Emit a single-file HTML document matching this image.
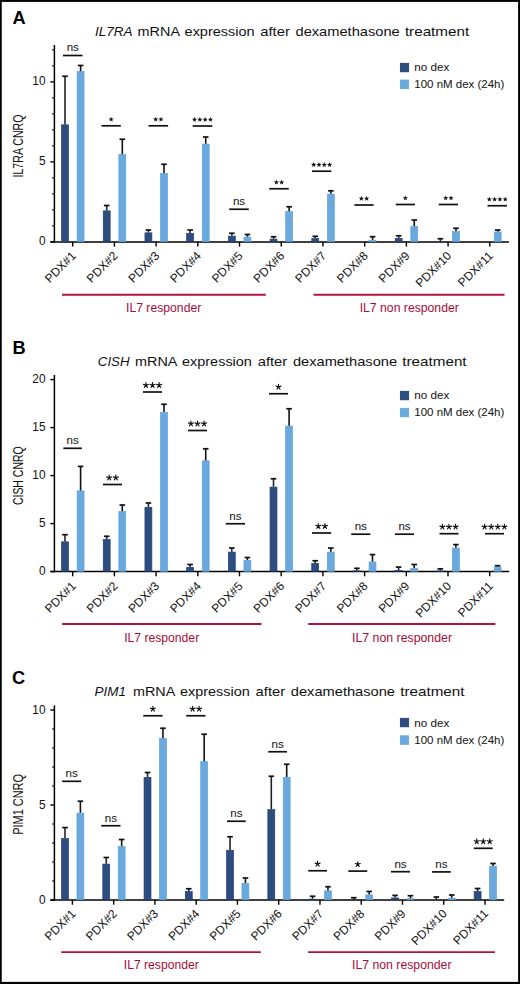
<!DOCTYPE html>
<html><head><meta charset="utf-8"><title>mRNA expression after dexamethasone treatment</title>
<style>
html,body{margin:0;padding:0;background:#fff;}
body{width:520px;height:984px;overflow:hidden;position:relative;}
svg{position:absolute;left:0;top:0;display:block;font-family:"Liberation Sans", sans-serif;}
</style></head><body>
<svg width="520" height="984" viewBox="0 0 520 984">
<rect x="0" y="0" width="520" height="984" fill="#fff"/>
<g>
<text x="12.50" y="23.60" font-size="18.2" font-weight="bold" fill="#000">A</text>
<text x="94.90" y="35.80" font-size="13.4" fill="#111" textLength="37.50" lengthAdjust="spacingAndGlyphs" font-style="italic">IL7RA</text>
<text x="137.60" y="35.80" font-size="13.4" fill="#111" textLength="42.40" lengthAdjust="spacingAndGlyphs">mRNA</text>
<text x="184.60" y="35.80" font-size="13.4" fill="#111" textLength="69.90" lengthAdjust="spacingAndGlyphs">expression</text>
<text x="260.30" y="35.80" font-size="13.4" fill="#111" textLength="29.50" lengthAdjust="spacingAndGlyphs">after</text>
<text x="295.50" y="35.80" font-size="13.4" fill="#111" textLength="104.20" lengthAdjust="spacingAndGlyphs">dexamethasone</text>
<text x="404.90" y="35.80" font-size="13.4" fill="#111" textLength="64.30" lengthAdjust="spacingAndGlyphs">treatment</text>
<rect x="400.35" y="63.30" width="8.3" height="8.5" fill="#2d4c7f" stroke="#1d3a70" stroke-width="0.8"/>
<rect x="400.35" y="80.05" width="8.3" height="8.5" fill="#6aa9de" stroke="#62a4dc" stroke-width="0.8"/>
<text x="414.3" y="71.25" font-size="11.3" fill="#111" textLength="35" lengthAdjust="spacingAndGlyphs">no dex</text>
<text x="414.3" y="88.00" font-size="11.3" fill="#111" textLength="90" lengthAdjust="spacingAndGlyphs">100 nM dex (24h)</text>
<line x1="54.40" y1="45.00" x2="54.40" y2="242.65" stroke="#000" stroke-width="1.5"/>
<line x1="50.4" y1="241.90" x2="508.90" y2="241.90" stroke="#000" stroke-width="1.5"/>
<line x1="52.2" y1="225.90" x2="54.40" y2="225.90" stroke="#000" stroke-width="1.2"/>
<line x1="52.2" y1="209.90" x2="54.40" y2="209.90" stroke="#000" stroke-width="1.2"/>
<line x1="52.2" y1="193.90" x2="54.40" y2="193.90" stroke="#000" stroke-width="1.2"/>
<line x1="52.2" y1="177.90" x2="54.40" y2="177.90" stroke="#000" stroke-width="1.2"/>
<line x1="52.2" y1="145.90" x2="54.40" y2="145.90" stroke="#000" stroke-width="1.2"/>
<line x1="52.2" y1="129.90" x2="54.40" y2="129.90" stroke="#000" stroke-width="1.2"/>
<line x1="52.2" y1="113.90" x2="54.40" y2="113.90" stroke="#000" stroke-width="1.2"/>
<line x1="52.2" y1="97.90" x2="54.40" y2="97.90" stroke="#000" stroke-width="1.2"/>
<line x1="52.2" y1="65.90" x2="54.40" y2="65.90" stroke="#000" stroke-width="1.2"/>
<line x1="52.2" y1="49.90" x2="54.40" y2="49.90" stroke="#000" stroke-width="1.2"/>
<line x1="50.4" y1="241.90" x2="54.40" y2="241.90" stroke="#000" stroke-width="1.4"/>
<text transform="translate(45.5,245.40) scale(0.9,1)" font-size="13.2" fill="#111" text-anchor="end">0</text>
<line x1="50.4" y1="161.90" x2="54.40" y2="161.90" stroke="#000" stroke-width="1.4"/>
<text transform="translate(45.5,165.40) scale(0.9,1)" font-size="13.2" fill="#111" text-anchor="end">5</text>
<line x1="50.4" y1="81.90" x2="54.40" y2="81.90" stroke="#000" stroke-width="1.4"/>
<text transform="translate(45.5,85.40) scale(0.9,1)" font-size="13.2" fill="#111" text-anchor="end">10</text>
<text transform="translate(23.3,146.00) rotate(-90)" x="0" y="0" font-size="14.6" fill="#111" text-anchor="middle" textLength="63.00" lengthAdjust="spacingAndGlyphs">IL7RA CNRQ</text>
<line x1="72.70" y1="241.90" x2="72.70" y2="246.60" stroke="#000" stroke-width="1.4"/>
<rect x="61.55" y="124.85" width="6.90" height="116.70" fill="#2d4c7f" stroke="#213e74" stroke-width="0.7"/>
<line x1="65.00" y1="124.50" x2="65.00" y2="76.25" stroke="#222" stroke-width="1.6"/>
<line x1="62.20" y1="76.25" x2="67.80" y2="76.25" stroke="#111" stroke-width="1.7"/>
<rect x="77.15" y="71.60" width="6.90" height="169.95" fill="#6aa9de" stroke="#5fa2da" stroke-width="0.7"/>
<line x1="80.60" y1="71.25" x2="80.60" y2="65.50" stroke="#111" stroke-width="1.6"/>
<line x1="77.80" y1="65.50" x2="83.40" y2="65.50" stroke="#111" stroke-width="1.7"/>
<text transform="translate(76.70,256.50) rotate(-45)" font-size="12" fill="#111" text-anchor="end">PDX#1</text>
<line x1="114.41" y1="241.90" x2="114.41" y2="246.60" stroke="#000" stroke-width="1.4"/>
<rect x="103.26" y="210.85" width="6.90" height="30.70" fill="#2d4c7f" stroke="#213e74" stroke-width="0.7"/>
<line x1="106.71" y1="210.50" x2="106.71" y2="205.50" stroke="#222" stroke-width="1.6"/>
<line x1="103.91" y1="205.50" x2="109.51" y2="205.50" stroke="#111" stroke-width="1.7"/>
<rect x="118.86" y="154.60" width="6.90" height="86.95" fill="#6aa9de" stroke="#5fa2da" stroke-width="0.7"/>
<line x1="122.31" y1="154.25" x2="122.31" y2="139.25" stroke="#111" stroke-width="1.6"/>
<line x1="119.51" y1="139.25" x2="125.11" y2="139.25" stroke="#111" stroke-width="1.7"/>
<text transform="translate(118.41,256.50) rotate(-45)" font-size="12" fill="#111" text-anchor="end">PDX#2</text>
<line x1="156.12" y1="241.90" x2="156.12" y2="246.60" stroke="#000" stroke-width="1.4"/>
<rect x="144.97" y="232.85" width="6.90" height="8.70" fill="#2d4c7f" stroke="#213e74" stroke-width="0.7"/>
<line x1="148.42" y1="232.50" x2="148.42" y2="230.00" stroke="#222" stroke-width="1.6"/>
<line x1="145.62" y1="230.00" x2="151.22" y2="230.00" stroke="#111" stroke-width="1.7"/>
<rect x="160.57" y="173.60" width="6.90" height="67.95" fill="#6aa9de" stroke="#5fa2da" stroke-width="0.7"/>
<line x1="164.02" y1="173.25" x2="164.02" y2="164.25" stroke="#111" stroke-width="1.6"/>
<line x1="161.22" y1="164.25" x2="166.82" y2="164.25" stroke="#111" stroke-width="1.7"/>
<text transform="translate(160.12,256.50) rotate(-45)" font-size="12" fill="#111" text-anchor="end">PDX#3</text>
<line x1="197.83" y1="241.90" x2="197.83" y2="246.60" stroke="#000" stroke-width="1.4"/>
<rect x="186.68" y="233.35" width="6.90" height="8.20" fill="#2d4c7f" stroke="#213e74" stroke-width="0.7"/>
<line x1="190.13" y1="233.00" x2="190.13" y2="230.00" stroke="#222" stroke-width="1.6"/>
<line x1="187.33" y1="230.00" x2="192.93" y2="230.00" stroke="#111" stroke-width="1.7"/>
<rect x="202.28" y="144.10" width="6.90" height="97.45" fill="#6aa9de" stroke="#5fa2da" stroke-width="0.7"/>
<line x1="205.73" y1="143.75" x2="205.73" y2="137.00" stroke="#111" stroke-width="1.6"/>
<line x1="202.93" y1="137.00" x2="208.53" y2="137.00" stroke="#111" stroke-width="1.7"/>
<text transform="translate(201.83,256.50) rotate(-45)" font-size="12" fill="#111" text-anchor="end">PDX#4</text>
<line x1="239.54" y1="241.90" x2="239.54" y2="246.60" stroke="#000" stroke-width="1.4"/>
<rect x="228.39" y="236.10" width="6.90" height="5.45" fill="#2d4c7f" stroke="#213e74" stroke-width="0.7"/>
<line x1="231.84" y1="235.75" x2="231.84" y2="233.25" stroke="#222" stroke-width="1.6"/>
<line x1="229.04" y1="233.25" x2="234.64" y2="233.25" stroke="#111" stroke-width="1.7"/>
<rect x="243.99" y="237.10" width="6.90" height="4.45" fill="#6aa9de" stroke="#5fa2da" stroke-width="0.7"/>
<line x1="247.44" y1="236.75" x2="247.44" y2="234.50" stroke="#111" stroke-width="1.6"/>
<line x1="244.64" y1="234.50" x2="250.24" y2="234.50" stroke="#111" stroke-width="1.7"/>
<text transform="translate(243.54,256.50) rotate(-45)" font-size="12" fill="#111" text-anchor="end">PDX#5</text>
<line x1="281.25" y1="241.90" x2="281.25" y2="246.60" stroke="#000" stroke-width="1.4"/>
<rect x="270.10" y="239.10" width="6.90" height="2.45" fill="#2d4c7f" stroke="#213e74" stroke-width="0.7"/>
<line x1="273.55" y1="238.75" x2="273.55" y2="236.75" stroke="#222" stroke-width="1.6"/>
<line x1="270.75" y1="236.75" x2="276.35" y2="236.75" stroke="#111" stroke-width="1.7"/>
<rect x="285.70" y="211.60" width="6.90" height="29.95" fill="#6aa9de" stroke="#5fa2da" stroke-width="0.7"/>
<line x1="289.15" y1="211.25" x2="289.15" y2="206.75" stroke="#111" stroke-width="1.6"/>
<line x1="286.35" y1="206.75" x2="291.95" y2="206.75" stroke="#111" stroke-width="1.7"/>
<text transform="translate(285.25,256.50) rotate(-45)" font-size="12" fill="#111" text-anchor="end">PDX#6</text>
<line x1="322.96" y1="241.90" x2="322.96" y2="246.60" stroke="#000" stroke-width="1.4"/>
<rect x="311.81" y="238.55" width="6.90" height="3.00" fill="#2d4c7f" stroke="#213e74" stroke-width="0.7"/>
<line x1="315.26" y1="238.20" x2="315.26" y2="236.30" stroke="#222" stroke-width="1.6"/>
<line x1="312.46" y1="236.30" x2="318.06" y2="236.30" stroke="#111" stroke-width="1.7"/>
<rect x="327.41" y="194.15" width="6.90" height="47.40" fill="#6aa9de" stroke="#5fa2da" stroke-width="0.7"/>
<line x1="330.86" y1="193.80" x2="330.86" y2="190.80" stroke="#111" stroke-width="1.6"/>
<line x1="328.06" y1="190.80" x2="333.66" y2="190.80" stroke="#111" stroke-width="1.7"/>
<text transform="translate(326.96,256.50) rotate(-45)" font-size="12" fill="#111" text-anchor="end">PDX#7</text>
<line x1="364.67" y1="241.90" x2="364.67" y2="246.60" stroke="#000" stroke-width="1.4"/>
<rect x="369.12" y="240.25" width="6.90" height="1.30" fill="#6aa9de" stroke="#5fa2da" stroke-width="0.7"/>
<line x1="372.57" y1="239.90" x2="372.57" y2="236.70" stroke="#111" stroke-width="1.6"/>
<line x1="369.77" y1="236.70" x2="375.37" y2="236.70" stroke="#111" stroke-width="1.7"/>
<text transform="translate(368.67,256.50) rotate(-45)" font-size="12" fill="#111" text-anchor="end">PDX#8</text>
<line x1="406.38" y1="241.90" x2="406.38" y2="246.60" stroke="#000" stroke-width="1.4"/>
<rect x="395.23" y="238.35" width="6.90" height="3.20" fill="#2d4c7f" stroke="#213e74" stroke-width="0.7"/>
<line x1="398.68" y1="238.00" x2="398.68" y2="235.75" stroke="#222" stroke-width="1.6"/>
<line x1="395.88" y1="235.75" x2="401.48" y2="235.75" stroke="#111" stroke-width="1.7"/>
<rect x="410.83" y="226.60" width="6.90" height="14.95" fill="#6aa9de" stroke="#5fa2da" stroke-width="0.7"/>
<line x1="414.28" y1="226.25" x2="414.28" y2="220.00" stroke="#111" stroke-width="1.6"/>
<line x1="411.48" y1="220.00" x2="417.08" y2="220.00" stroke="#111" stroke-width="1.7"/>
<text transform="translate(410.38,256.50) rotate(-45)" font-size="12" fill="#111" text-anchor="end">PDX#9</text>
<line x1="448.09" y1="241.90" x2="448.09" y2="246.60" stroke="#000" stroke-width="1.4"/>
<rect x="436.94" y="241.35" width="6.90" height="0.20" fill="#2d4c7f" stroke="#213e74" stroke-width="0.7"/>
<line x1="440.39" y1="241.00" x2="440.39" y2="238.75" stroke="#222" stroke-width="1.6"/>
<line x1="437.59" y1="238.75" x2="443.19" y2="238.75" stroke="#111" stroke-width="1.7"/>
<rect x="452.54" y="231.60" width="6.90" height="9.95" fill="#6aa9de" stroke="#5fa2da" stroke-width="0.7"/>
<line x1="455.99" y1="231.25" x2="455.99" y2="228.25" stroke="#111" stroke-width="1.6"/>
<line x1="453.19" y1="228.25" x2="458.79" y2="228.25" stroke="#111" stroke-width="1.7"/>
<text transform="translate(452.09,256.50) rotate(-45)" font-size="12" fill="#111" text-anchor="end">PDX#10</text>
<line x1="489.80" y1="241.90" x2="489.80" y2="246.60" stroke="#000" stroke-width="1.4"/>
<rect x="494.25" y="231.95" width="6.90" height="9.60" fill="#6aa9de" stroke="#5fa2da" stroke-width="0.7"/>
<line x1="497.70" y1="231.60" x2="497.70" y2="230.00" stroke="#111" stroke-width="1.6"/>
<line x1="494.90" y1="230.00" x2="500.50" y2="230.00" stroke="#111" stroke-width="1.7"/>
<text transform="translate(493.80,256.50) rotate(-45)" font-size="12" fill="#111" text-anchor="end">PDX#11</text>
<line x1="63.00" y1="55.50" x2="82.50" y2="55.50" stroke="#111" stroke-width="1.7"/>
<text x="72.75" y="51.40" font-size="11.6" fill="#111" text-anchor="middle">ns</text>
<line x1="101.50" y1="125.80" x2="120.80" y2="125.80" stroke="#111" stroke-width="1.7"/>
<g fill="#111"><polygon points="111.15,116.65 111.83,118.47 113.77,118.55 112.24,119.76 112.77,121.62 111.15,120.55 109.53,121.62 110.06,119.76 108.53,118.55 110.47,118.47"/></g>
<line x1="148.50" y1="125.80" x2="168.10" y2="125.80" stroke="#111" stroke-width="1.7"/>
<g fill="#111"><polygon points="155.65,116.65 156.33,118.47 158.27,118.55 156.74,119.76 157.27,121.62 155.65,120.55 154.03,121.62 154.56,119.76 153.03,118.55 154.97,118.47"/><polygon points="160.95,116.65 161.63,118.47 163.57,118.55 162.04,119.76 162.57,121.62 160.95,120.55 159.33,121.62 159.86,119.76 158.33,118.55 160.27,118.47"/></g>
<line x1="192.70" y1="126.00" x2="212.30" y2="126.00" stroke="#111" stroke-width="1.7"/>
<g fill="#111"><polygon points="194.55,116.85 195.23,118.67 197.17,118.75 195.64,119.96 196.17,121.82 194.55,120.75 192.93,121.82 193.46,119.96 191.93,118.75 193.87,118.67"/><polygon points="199.85,116.85 200.53,118.67 202.47,118.75 200.94,119.96 201.47,121.82 199.85,120.75 198.23,121.82 198.76,119.96 197.23,118.75 199.17,118.67"/><polygon points="205.15,116.85 205.83,118.67 207.77,118.75 206.24,119.96 206.77,121.82 205.15,120.75 203.53,121.82 204.06,119.96 202.53,118.75 204.47,118.67"/><polygon points="210.45,116.85 211.13,118.67 213.07,118.75 211.54,119.96 212.07,121.82 210.45,120.75 208.83,121.82 209.36,119.96 207.83,118.75 209.77,118.67"/></g>
<line x1="229.25" y1="209.25" x2="248.75" y2="209.25" stroke="#111" stroke-width="1.7"/>
<text x="239.00" y="205.15" font-size="11.6" fill="#111" text-anchor="middle">ns</text>
<line x1="269.25" y1="188.75" x2="288.75" y2="188.75" stroke="#111" stroke-width="1.7"/>
<g fill="#111"><polygon points="276.35,179.60 277.03,181.42 278.97,181.50 277.44,182.71 277.97,184.57 276.35,183.50 274.73,184.57 275.26,182.71 273.73,181.50 275.67,181.42"/><polygon points="281.65,179.60 282.33,181.42 284.27,181.50 282.74,182.71 283.27,184.57 281.65,183.50 280.03,184.57 280.56,182.71 279.03,181.50 280.97,181.42"/></g>
<line x1="312.00" y1="171.20" x2="331.30" y2="171.20" stroke="#111" stroke-width="1.7"/>
<g fill="#111"><polygon points="313.70,162.05 314.38,163.87 316.32,163.95 314.79,165.16 315.32,167.02 313.70,165.95 312.08,167.02 312.61,165.16 311.08,163.95 313.02,163.87"/><polygon points="319.00,162.05 319.68,163.87 321.62,163.95 320.09,165.16 320.62,167.02 319.00,165.95 317.38,167.02 317.91,165.16 316.38,163.95 318.32,163.87"/><polygon points="324.30,162.05 324.98,163.87 326.92,163.95 325.39,165.16 325.92,167.02 324.30,165.95 322.68,167.02 323.21,165.16 321.68,163.95 323.62,163.87"/><polygon points="329.60,162.05 330.28,163.87 332.22,163.95 330.69,165.16 331.22,167.02 329.60,165.95 327.98,167.02 328.51,165.16 326.98,163.95 328.92,163.87"/></g>
<line x1="354.40" y1="205.00" x2="373.60" y2="205.00" stroke="#111" stroke-width="1.7"/>
<g fill="#111"><polygon points="361.35,195.85 362.03,197.67 363.97,197.75 362.44,198.96 362.97,200.82 361.35,199.75 359.73,200.82 360.26,198.96 358.73,197.75 360.67,197.67"/><polygon points="366.65,195.85 367.33,197.67 369.27,197.75 367.74,198.96 368.27,200.82 366.65,199.75 365.03,200.82 365.56,198.96 364.03,197.75 365.97,197.67"/></g>
<line x1="395.75" y1="204.50" x2="415.00" y2="204.50" stroke="#111" stroke-width="1.7"/>
<g fill="#111"><polygon points="405.38,195.35 406.05,197.17 407.99,197.25 406.47,198.46 406.99,200.32 405.38,199.25 403.76,200.32 404.28,198.46 402.76,197.25 404.70,197.17"/></g>
<line x1="438.75" y1="204.50" x2="458.00" y2="204.50" stroke="#111" stroke-width="1.7"/>
<g fill="#111"><polygon points="445.73,195.35 446.40,197.17 448.34,197.25 446.82,198.46 447.34,200.32 445.73,199.25 444.11,200.32 444.63,198.46 443.11,197.25 445.05,197.17"/><polygon points="451.03,195.35 451.70,197.17 453.64,197.25 452.12,198.46 452.64,200.32 451.03,199.25 449.41,200.32 449.93,198.46 448.41,197.25 450.35,197.17"/></g>
<line x1="487.50" y1="205.75" x2="507.00" y2="205.75" stroke="#111" stroke-width="1.7"/>
<g fill="#111"><polygon points="489.30,196.60 489.98,198.42 491.92,198.50 490.39,199.71 490.92,201.57 489.30,200.50 487.68,201.57 488.21,199.71 486.68,198.50 488.62,198.42"/><polygon points="494.60,196.60 495.28,198.42 497.22,198.50 495.69,199.71 496.22,201.57 494.60,200.50 492.98,201.57 493.51,199.71 491.98,198.50 493.92,198.42"/><polygon points="499.90,196.60 500.58,198.42 502.52,198.50 500.99,199.71 501.52,201.57 499.90,200.50 498.28,201.57 498.81,199.71 497.28,198.50 499.22,198.42"/><polygon points="505.20,196.60 505.88,198.42 507.82,198.50 506.29,199.71 506.82,201.57 505.20,200.50 503.58,201.57 504.11,199.71 502.58,198.50 504.52,198.42"/></g>
<line x1="62.00" y1="294.80" x2="265.80" y2="294.80" stroke="#b0143e" stroke-width="1.9"/>
<line x1="313.50" y1="294.80" x2="504.60" y2="294.80" stroke="#b0143e" stroke-width="1.9"/>
<text x="126.00" y="312.00" font-size="12" fill="#a30d38" textLength="75.30" lengthAdjust="spacingAndGlyphs">IL7 responder</text>
<text x="359.70" y="312.00" font-size="12" fill="#a30d38" textLength="99.10" lengthAdjust="spacingAndGlyphs">IL7 non responder</text>
</g>
<g>
<text x="12.50" y="353.80" font-size="18.2" font-weight="bold" fill="#000">B</text>
<text x="97.80" y="365.60" font-size="13.4" fill="#111" textLength="31.70" lengthAdjust="spacingAndGlyphs" font-style="italic">CISH</text>
<text x="135.00" y="365.60" font-size="13.4" fill="#111" textLength="42.40" lengthAdjust="spacingAndGlyphs">mRNA</text>
<text x="182.00" y="365.60" font-size="13.4" fill="#111" textLength="69.90" lengthAdjust="spacingAndGlyphs">expression</text>
<text x="257.70" y="365.60" font-size="13.4" fill="#111" textLength="29.50" lengthAdjust="spacingAndGlyphs">after</text>
<text x="292.90" y="365.60" font-size="13.4" fill="#111" textLength="104.20" lengthAdjust="spacingAndGlyphs">dexamethasone</text>
<text x="402.30" y="365.60" font-size="13.4" fill="#111" textLength="64.30" lengthAdjust="spacingAndGlyphs">treatment</text>
<rect x="400.35" y="391.30" width="8.3" height="8.5" fill="#2d4c7f" stroke="#1d3a70" stroke-width="0.8"/>
<rect x="400.35" y="408.30" width="8.3" height="8.5" fill="#6aa9de" stroke="#62a4dc" stroke-width="0.8"/>
<text x="414.3" y="399.25" font-size="11.3" fill="#111" textLength="35" lengthAdjust="spacingAndGlyphs">no dex</text>
<text x="414.3" y="416.25" font-size="11.3" fill="#111" textLength="90" lengthAdjust="spacingAndGlyphs">100 nM dex (24h)</text>
<line x1="54.40" y1="375.00" x2="54.40" y2="572.35" stroke="#000" stroke-width="1.5"/>
<line x1="50.4" y1="571.60" x2="509.20" y2="571.60" stroke="#000" stroke-width="1.5"/>
<line x1="50.4" y1="571.60" x2="54.40" y2="571.60" stroke="#000" stroke-width="1.4"/>
<text transform="translate(45.5,575.10) scale(0.9,1)" font-size="13.2" fill="#111" text-anchor="end">0</text>
<line x1="50.4" y1="523.60" x2="54.40" y2="523.60" stroke="#000" stroke-width="1.4"/>
<text transform="translate(45.5,527.10) scale(0.9,1)" font-size="13.2" fill="#111" text-anchor="end">5</text>
<line x1="50.4" y1="475.60" x2="54.40" y2="475.60" stroke="#000" stroke-width="1.4"/>
<text transform="translate(45.5,479.10) scale(0.9,1)" font-size="13.2" fill="#111" text-anchor="end">10</text>
<line x1="50.4" y1="427.60" x2="54.40" y2="427.60" stroke="#000" stroke-width="1.4"/>
<text transform="translate(45.5,431.10) scale(0.9,1)" font-size="13.2" fill="#111" text-anchor="end">15</text>
<line x1="50.4" y1="379.60" x2="54.40" y2="379.60" stroke="#000" stroke-width="1.4"/>
<text transform="translate(45.5,383.10) scale(0.9,1)" font-size="13.2" fill="#111" text-anchor="end">20</text>
<text transform="translate(23.3,475.70) rotate(-90)" x="0" y="0" font-size="14.6" fill="#111" text-anchor="middle" textLength="58.80" lengthAdjust="spacingAndGlyphs">CISH CNRQ</text>
<line x1="72.70" y1="571.60" x2="72.70" y2="576.30" stroke="#000" stroke-width="1.4"/>
<rect x="61.55" y="541.85" width="6.90" height="29.40" fill="#2d4c7f" stroke="#213e74" stroke-width="0.7"/>
<line x1="65.00" y1="541.50" x2="65.00" y2="534.70" stroke="#222" stroke-width="1.6"/>
<line x1="62.20" y1="534.70" x2="67.80" y2="534.70" stroke="#111" stroke-width="1.7"/>
<rect x="77.15" y="490.85" width="6.90" height="80.40" fill="#6aa9de" stroke="#5fa2da" stroke-width="0.7"/>
<line x1="80.60" y1="490.50" x2="80.60" y2="466.40" stroke="#111" stroke-width="1.6"/>
<line x1="77.80" y1="466.40" x2="83.40" y2="466.40" stroke="#111" stroke-width="1.7"/>
<text transform="translate(76.70,586.70) rotate(-45)" font-size="12" fill="#111" text-anchor="end">PDX#1</text>
<line x1="114.40" y1="571.60" x2="114.40" y2="576.30" stroke="#000" stroke-width="1.4"/>
<rect x="103.25" y="539.60" width="6.90" height="31.65" fill="#2d4c7f" stroke="#213e74" stroke-width="0.7"/>
<line x1="106.70" y1="539.25" x2="106.70" y2="536.25" stroke="#222" stroke-width="1.6"/>
<line x1="103.90" y1="536.25" x2="109.50" y2="536.25" stroke="#111" stroke-width="1.7"/>
<rect x="118.85" y="511.60" width="6.90" height="59.65" fill="#6aa9de" stroke="#5fa2da" stroke-width="0.7"/>
<line x1="122.30" y1="511.25" x2="122.30" y2="505.00" stroke="#111" stroke-width="1.6"/>
<line x1="119.50" y1="505.00" x2="125.10" y2="505.00" stroke="#111" stroke-width="1.7"/>
<text transform="translate(118.40,586.70) rotate(-45)" font-size="12" fill="#111" text-anchor="end">PDX#2</text>
<line x1="156.10" y1="571.60" x2="156.10" y2="576.30" stroke="#000" stroke-width="1.4"/>
<rect x="144.95" y="507.35" width="6.90" height="63.90" fill="#2d4c7f" stroke="#213e74" stroke-width="0.7"/>
<line x1="148.40" y1="507.00" x2="148.40" y2="503.00" stroke="#222" stroke-width="1.6"/>
<line x1="145.60" y1="503.00" x2="151.20" y2="503.00" stroke="#111" stroke-width="1.7"/>
<rect x="160.55" y="412.35" width="6.90" height="158.90" fill="#6aa9de" stroke="#5fa2da" stroke-width="0.7"/>
<line x1="164.00" y1="412.00" x2="164.00" y2="404.25" stroke="#111" stroke-width="1.6"/>
<line x1="161.20" y1="404.25" x2="166.80" y2="404.25" stroke="#111" stroke-width="1.7"/>
<text transform="translate(160.10,586.70) rotate(-45)" font-size="12" fill="#111" text-anchor="end">PDX#3</text>
<line x1="197.80" y1="571.60" x2="197.80" y2="576.30" stroke="#000" stroke-width="1.4"/>
<rect x="186.65" y="567.35" width="6.90" height="3.90" fill="#2d4c7f" stroke="#213e74" stroke-width="0.7"/>
<line x1="190.10" y1="567.00" x2="190.10" y2="564.50" stroke="#222" stroke-width="1.6"/>
<line x1="187.30" y1="564.50" x2="192.90" y2="564.50" stroke="#111" stroke-width="1.7"/>
<rect x="202.25" y="460.85" width="6.90" height="110.40" fill="#6aa9de" stroke="#5fa2da" stroke-width="0.7"/>
<line x1="205.70" y1="460.50" x2="205.70" y2="448.75" stroke="#111" stroke-width="1.6"/>
<line x1="202.90" y1="448.75" x2="208.50" y2="448.75" stroke="#111" stroke-width="1.7"/>
<text transform="translate(201.80,586.70) rotate(-45)" font-size="12" fill="#111" text-anchor="end">PDX#4</text>
<line x1="239.50" y1="571.60" x2="239.50" y2="576.30" stroke="#000" stroke-width="1.4"/>
<rect x="228.35" y="552.10" width="6.90" height="19.15" fill="#2d4c7f" stroke="#213e74" stroke-width="0.7"/>
<line x1="231.80" y1="551.75" x2="231.80" y2="548.00" stroke="#222" stroke-width="1.6"/>
<line x1="229.00" y1="548.00" x2="234.60" y2="548.00" stroke="#111" stroke-width="1.7"/>
<rect x="243.95" y="560.35" width="6.90" height="10.90" fill="#6aa9de" stroke="#5fa2da" stroke-width="0.7"/>
<line x1="247.40" y1="560.00" x2="247.40" y2="557.50" stroke="#111" stroke-width="1.6"/>
<line x1="244.60" y1="557.50" x2="250.20" y2="557.50" stroke="#111" stroke-width="1.7"/>
<text transform="translate(243.50,586.70) rotate(-45)" font-size="12" fill="#111" text-anchor="end">PDX#5</text>
<line x1="281.20" y1="571.60" x2="281.20" y2="576.30" stroke="#000" stroke-width="1.4"/>
<rect x="270.05" y="487.10" width="6.90" height="84.15" fill="#2d4c7f" stroke="#213e74" stroke-width="0.7"/>
<line x1="273.50" y1="486.75" x2="273.50" y2="478.75" stroke="#222" stroke-width="1.6"/>
<line x1="270.70" y1="478.75" x2="276.30" y2="478.75" stroke="#111" stroke-width="1.7"/>
<rect x="285.65" y="426.10" width="6.90" height="145.15" fill="#6aa9de" stroke="#5fa2da" stroke-width="0.7"/>
<line x1="289.10" y1="425.75" x2="289.10" y2="408.75" stroke="#111" stroke-width="1.6"/>
<line x1="286.30" y1="408.75" x2="291.90" y2="408.75" stroke="#111" stroke-width="1.7"/>
<text transform="translate(285.20,586.70) rotate(-45)" font-size="12" fill="#111" text-anchor="end">PDX#6</text>
<line x1="322.90" y1="571.60" x2="322.90" y2="576.30" stroke="#000" stroke-width="1.4"/>
<rect x="311.75" y="563.35" width="6.90" height="7.90" fill="#2d4c7f" stroke="#213e74" stroke-width="0.7"/>
<line x1="315.20" y1="563.00" x2="315.20" y2="560.75" stroke="#222" stroke-width="1.6"/>
<line x1="312.40" y1="560.75" x2="318.00" y2="560.75" stroke="#111" stroke-width="1.7"/>
<rect x="327.35" y="552.10" width="6.90" height="19.15" fill="#6aa9de" stroke="#5fa2da" stroke-width="0.7"/>
<line x1="330.80" y1="551.75" x2="330.80" y2="548.00" stroke="#111" stroke-width="1.6"/>
<line x1="328.00" y1="548.00" x2="333.60" y2="548.00" stroke="#111" stroke-width="1.7"/>
<text transform="translate(326.90,586.70) rotate(-45)" font-size="12" fill="#111" text-anchor="end">PDX#7</text>
<line x1="364.60" y1="571.60" x2="364.60" y2="576.30" stroke="#000" stroke-width="1.4"/>
<rect x="353.45" y="570.85" width="6.90" height="0.40" fill="#2d4c7f" stroke="#213e74" stroke-width="0.7"/>
<line x1="356.90" y1="570.50" x2="356.90" y2="568.30" stroke="#222" stroke-width="1.6"/>
<line x1="354.10" y1="568.30" x2="359.70" y2="568.30" stroke="#111" stroke-width="1.7"/>
<rect x="369.05" y="561.95" width="6.90" height="9.30" fill="#6aa9de" stroke="#5fa2da" stroke-width="0.7"/>
<line x1="372.50" y1="561.60" x2="372.50" y2="554.60" stroke="#111" stroke-width="1.6"/>
<line x1="369.70" y1="554.60" x2="375.30" y2="554.60" stroke="#111" stroke-width="1.7"/>
<text transform="translate(368.60,586.70) rotate(-45)" font-size="12" fill="#111" text-anchor="end">PDX#8</text>
<line x1="406.30" y1="571.60" x2="406.30" y2="576.30" stroke="#000" stroke-width="1.4"/>
<rect x="395.15" y="570.35" width="6.90" height="0.90" fill="#2d4c7f" stroke="#213e74" stroke-width="0.7"/>
<line x1="398.60" y1="570.00" x2="398.60" y2="567.10" stroke="#222" stroke-width="1.6"/>
<line x1="395.80" y1="567.10" x2="401.40" y2="567.10" stroke="#111" stroke-width="1.7"/>
<rect x="410.75" y="568.35" width="6.90" height="2.90" fill="#6aa9de" stroke="#5fa2da" stroke-width="0.7"/>
<line x1="414.20" y1="568.00" x2="414.20" y2="564.50" stroke="#111" stroke-width="1.6"/>
<line x1="411.40" y1="564.50" x2="417.00" y2="564.50" stroke="#111" stroke-width="1.7"/>
<text transform="translate(410.30,586.70) rotate(-45)" font-size="12" fill="#111" text-anchor="end">PDX#9</text>
<line x1="448.00" y1="571.60" x2="448.00" y2="576.30" stroke="#000" stroke-width="1.4"/>
<rect x="436.85" y="570.95" width="6.90" height="0.30" fill="#2d4c7f" stroke="#213e74" stroke-width="0.7"/>
<line x1="440.30" y1="570.60" x2="440.30" y2="568.80" stroke="#222" stroke-width="1.6"/>
<line x1="437.50" y1="568.80" x2="443.10" y2="568.80" stroke="#111" stroke-width="1.7"/>
<rect x="452.45" y="548.05" width="6.90" height="23.20" fill="#6aa9de" stroke="#5fa2da" stroke-width="0.7"/>
<line x1="455.90" y1="547.70" x2="455.90" y2="544.60" stroke="#111" stroke-width="1.6"/>
<line x1="453.10" y1="544.60" x2="458.70" y2="544.60" stroke="#111" stroke-width="1.7"/>
<text transform="translate(452.00,586.70) rotate(-45)" font-size="12" fill="#111" text-anchor="end">PDX#10</text>
<line x1="489.70" y1="571.60" x2="489.70" y2="576.30" stroke="#000" stroke-width="1.4"/>
<rect x="494.15" y="567.05" width="6.90" height="4.20" fill="#6aa9de" stroke="#5fa2da" stroke-width="0.7"/>
<line x1="497.60" y1="566.70" x2="497.60" y2="565.70" stroke="#111" stroke-width="1.6"/>
<line x1="494.80" y1="565.70" x2="500.40" y2="565.70" stroke="#111" stroke-width="1.7"/>
<text transform="translate(493.70,586.70) rotate(-45)" font-size="12" fill="#111" text-anchor="end">PDX#11</text>
<line x1="63.30" y1="448.30" x2="81.90" y2="448.30" stroke="#111" stroke-width="1.7"/>
<text x="72.60" y="444.20" font-size="11.6" fill="#111" text-anchor="middle">ns</text>
<line x1="103.00" y1="484.50" x2="122.00" y2="484.50" stroke="#111" stroke-width="1.7"/>
<g fill="#111"><path d="M109.20 477.70L109.20 475.10M109.20 477.70L111.67 476.90M109.20 477.70L110.73 479.80M109.20 477.70L107.67 479.80M109.20 477.70L106.73 476.90" stroke="#111" stroke-width="1.15" stroke-linecap="round" fill="none"/><circle cx="109.20" cy="477.70" r="0.95"/><path d="M115.80 477.70L115.80 475.10M115.80 477.70L118.27 476.90M115.80 477.70L117.33 479.80M115.80 477.70L114.27 479.80M115.80 477.70L113.33 476.90" stroke="#111" stroke-width="1.15" stroke-linecap="round" fill="none"/><circle cx="115.80" cy="477.70" r="0.95"/></g>
<line x1="143.00" y1="392.00" x2="162.00" y2="392.00" stroke="#111" stroke-width="1.7"/>
<g fill="#111"><path d="M145.90 385.20L145.90 382.60M145.90 385.20L148.37 384.40M145.90 385.20L147.43 387.30M145.90 385.20L144.37 387.30M145.90 385.20L143.43 384.40" stroke="#111" stroke-width="1.15" stroke-linecap="round" fill="none"/><circle cx="145.90" cy="385.20" r="0.95"/><path d="M152.50 385.20L152.50 382.60M152.50 385.20L154.97 384.40M152.50 385.20L154.03 387.30M152.50 385.20L150.97 387.30M152.50 385.20L150.03 384.40" stroke="#111" stroke-width="1.15" stroke-linecap="round" fill="none"/><circle cx="152.50" cy="385.20" r="0.95"/><path d="M159.10 385.20L159.10 382.60M159.10 385.20L161.57 384.40M159.10 385.20L160.63 387.30M159.10 385.20L157.57 387.30M159.10 385.20L156.63 384.40" stroke="#111" stroke-width="1.15" stroke-linecap="round" fill="none"/><circle cx="159.10" cy="385.20" r="0.95"/></g>
<line x1="188.00" y1="430.50" x2="207.00" y2="430.50" stroke="#111" stroke-width="1.7"/>
<g fill="#111"><path d="M190.90 423.70L190.90 421.10M190.90 423.70L193.37 422.90M190.90 423.70L192.43 425.80M190.90 423.70L189.37 425.80M190.90 423.70L188.43 422.90" stroke="#111" stroke-width="1.15" stroke-linecap="round" fill="none"/><circle cx="190.90" cy="423.70" r="0.95"/><path d="M197.50 423.70L197.50 421.10M197.50 423.70L199.97 422.90M197.50 423.70L199.03 425.80M197.50 423.70L195.97 425.80M197.50 423.70L195.03 422.90" stroke="#111" stroke-width="1.15" stroke-linecap="round" fill="none"/><circle cx="197.50" cy="423.70" r="0.95"/><path d="M204.10 423.70L204.10 421.10M204.10 423.70L206.57 422.90M204.10 423.70L205.63 425.80M204.10 423.70L202.57 425.80M204.10 423.70L201.63 422.90" stroke="#111" stroke-width="1.15" stroke-linecap="round" fill="none"/><circle cx="204.10" cy="423.70" r="0.95"/></g>
<line x1="225.75" y1="523.75" x2="245.00" y2="523.75" stroke="#111" stroke-width="1.7"/>
<text x="235.38" y="519.65" font-size="11.6" fill="#111" text-anchor="middle">ns</text>
<line x1="269.00" y1="393.75" x2="288.00" y2="393.75" stroke="#111" stroke-width="1.7"/>
<g fill="#111"><path d="M278.50 386.95L278.50 384.35M278.50 386.95L280.97 386.15M278.50 386.95L280.03 389.05M278.50 386.95L276.97 389.05M278.50 386.95L276.03 386.15" stroke="#111" stroke-width="1.15" stroke-linecap="round" fill="none"/><circle cx="278.50" cy="386.95" r="0.95"/></g>
<line x1="312.00" y1="533.00" x2="331.25" y2="533.00" stroke="#111" stroke-width="1.7"/>
<g fill="#111"><path d="M318.32 526.20L318.32 523.60M318.32 526.20L320.80 525.40M318.32 526.20L319.85 528.30M318.32 526.20L316.80 528.30M318.32 526.20L315.85 525.40" stroke="#111" stroke-width="1.15" stroke-linecap="round" fill="none"/><circle cx="318.32" cy="526.20" r="0.95"/><path d="M324.93 526.20L324.93 523.60M324.93 526.20L327.40 525.40M324.93 526.20L326.45 528.30M324.93 526.20L323.40 528.30M324.93 526.20L322.45 525.40" stroke="#111" stroke-width="1.15" stroke-linecap="round" fill="none"/><circle cx="324.93" cy="526.20" r="0.95"/></g>
<line x1="351.20" y1="534.20" x2="370.30" y2="534.20" stroke="#111" stroke-width="1.7"/>
<text x="360.75" y="530.10" font-size="11.6" fill="#111" text-anchor="middle">ns</text>
<line x1="395.00" y1="534.20" x2="414.00" y2="534.20" stroke="#111" stroke-width="1.7"/>
<text x="404.50" y="530.10" font-size="11.6" fill="#111" text-anchor="middle">ns</text>
<line x1="439.50" y1="533.70" x2="458.50" y2="533.70" stroke="#111" stroke-width="1.7"/>
<g fill="#111"><path d="M442.40 526.90L442.40 524.30M442.40 526.90L444.87 526.10M442.40 526.90L443.93 529.00M442.40 526.90L440.87 529.00M442.40 526.90L439.93 526.10" stroke="#111" stroke-width="1.15" stroke-linecap="round" fill="none"/><circle cx="442.40" cy="526.90" r="0.95"/><path d="M449.00 526.90L449.00 524.30M449.00 526.90L451.47 526.10M449.00 526.90L450.53 529.00M449.00 526.90L447.47 529.00M449.00 526.90L446.53 526.10" stroke="#111" stroke-width="1.15" stroke-linecap="round" fill="none"/><circle cx="449.00" cy="526.90" r="0.95"/><path d="M455.60 526.90L455.60 524.30M455.60 526.90L458.07 526.10M455.60 526.90L457.13 529.00M455.60 526.90L454.07 529.00M455.60 526.90L453.13 526.10" stroke="#111" stroke-width="1.15" stroke-linecap="round" fill="none"/><circle cx="455.60" cy="526.90" r="0.95"/></g>
<line x1="485.00" y1="533.70" x2="504.00" y2="533.70" stroke="#111" stroke-width="1.7"/>
<g fill="#111"><path d="M484.60 526.90L484.60 524.30M484.60 526.90L487.07 526.10M484.60 526.90L486.13 529.00M484.60 526.90L483.07 529.00M484.60 526.90L482.13 526.10" stroke="#111" stroke-width="1.15" stroke-linecap="round" fill="none"/><circle cx="484.60" cy="526.90" r="0.95"/><path d="M491.20 526.90L491.20 524.30M491.20 526.90L493.67 526.10M491.20 526.90L492.73 529.00M491.20 526.90L489.67 529.00M491.20 526.90L488.73 526.10" stroke="#111" stroke-width="1.15" stroke-linecap="round" fill="none"/><circle cx="491.20" cy="526.90" r="0.95"/><path d="M497.80 526.90L497.80 524.30M497.80 526.90L500.27 526.10M497.80 526.90L499.33 529.00M497.80 526.90L496.27 529.00M497.80 526.90L495.33 526.10" stroke="#111" stroke-width="1.15" stroke-linecap="round" fill="none"/><circle cx="497.80" cy="526.90" r="0.95"/><path d="M504.40 526.90L504.40 524.30M504.40 526.90L506.87 526.10M504.40 526.90L505.93 529.00M504.40 526.90L502.87 529.00M504.40 526.90L501.93 526.10" stroke="#111" stroke-width="1.15" stroke-linecap="round" fill="none"/><circle cx="504.40" cy="526.90" r="0.95"/></g>
<line x1="62.10" y1="624.00" x2="261.50" y2="624.00" stroke="#b0143e" stroke-width="1.9"/>
<line x1="308.30" y1="624.00" x2="495.40" y2="624.00" stroke="#b0143e" stroke-width="1.9"/>
<text x="124.20" y="641.80" font-size="12" fill="#a30d38" textLength="75.00" lengthAdjust="spacingAndGlyphs">IL7 responder</text>
<text x="352.00" y="641.80" font-size="12" fill="#a30d38" textLength="100.00" lengthAdjust="spacingAndGlyphs">IL7 non responder</text>
</g>
<g>
<text x="12.10" y="683.80" font-size="18.2" font-weight="bold" fill="#000">C</text>
<text x="94.60" y="695.80" font-size="13.4" fill="#111" textLength="31.40" lengthAdjust="spacingAndGlyphs" font-style="italic">PIM1</text>
<text x="132.90" y="695.80" font-size="13.4" fill="#111" textLength="42.40" lengthAdjust="spacingAndGlyphs">mRNA</text>
<text x="179.90" y="695.80" font-size="13.4" fill="#111" textLength="69.90" lengthAdjust="spacingAndGlyphs">expression</text>
<text x="255.60" y="695.80" font-size="13.4" fill="#111" textLength="29.50" lengthAdjust="spacingAndGlyphs">after</text>
<text x="290.80" y="695.80" font-size="13.4" fill="#111" textLength="104.20" lengthAdjust="spacingAndGlyphs">dexamethasone</text>
<text x="400.20" y="695.80" font-size="13.4" fill="#111" textLength="64.30" lengthAdjust="spacingAndGlyphs">treatment</text>
<rect x="400.35" y="718.30" width="8.3" height="8.5" fill="#2d4c7f" stroke="#1d3a70" stroke-width="0.8"/>
<rect x="400.35" y="735.80" width="8.3" height="8.5" fill="#6aa9de" stroke="#62a4dc" stroke-width="0.8"/>
<text x="414.3" y="726.75" font-size="11.3" fill="#111" textLength="35" lengthAdjust="spacingAndGlyphs">no dex</text>
<text x="414.3" y="743.75" font-size="11.3" fill="#111" textLength="90" lengthAdjust="spacingAndGlyphs">100 nM dex (24h)</text>
<line x1="54.40" y1="705.40" x2="54.40" y2="900.75" stroke="#000" stroke-width="1.5"/>
<line x1="50.4" y1="900.00" x2="504.20" y2="900.00" stroke="#000" stroke-width="1.5"/>
<line x1="52.2" y1="881.00" x2="54.40" y2="881.00" stroke="#000" stroke-width="1.2"/>
<line x1="52.2" y1="862.00" x2="54.40" y2="862.00" stroke="#000" stroke-width="1.2"/>
<line x1="52.2" y1="843.00" x2="54.40" y2="843.00" stroke="#000" stroke-width="1.2"/>
<line x1="52.2" y1="824.00" x2="54.40" y2="824.00" stroke="#000" stroke-width="1.2"/>
<line x1="52.2" y1="786.00" x2="54.40" y2="786.00" stroke="#000" stroke-width="1.2"/>
<line x1="52.2" y1="767.00" x2="54.40" y2="767.00" stroke="#000" stroke-width="1.2"/>
<line x1="52.2" y1="748.00" x2="54.40" y2="748.00" stroke="#000" stroke-width="1.2"/>
<line x1="52.2" y1="729.00" x2="54.40" y2="729.00" stroke="#000" stroke-width="1.2"/>
<line x1="50.4" y1="900.00" x2="54.40" y2="900.00" stroke="#000" stroke-width="1.4"/>
<text transform="translate(45.5,903.50) scale(0.9,1)" font-size="13.2" fill="#111" text-anchor="end">0</text>
<line x1="50.4" y1="805.00" x2="54.40" y2="805.00" stroke="#000" stroke-width="1.4"/>
<text transform="translate(45.5,808.50) scale(0.9,1)" font-size="13.2" fill="#111" text-anchor="end">5</text>
<line x1="50.4" y1="710.00" x2="54.40" y2="710.00" stroke="#000" stroke-width="1.4"/>
<text transform="translate(45.5,713.50) scale(0.9,1)" font-size="13.2" fill="#111" text-anchor="end">10</text>
<text transform="translate(23.3,804.40) rotate(-90)" x="0" y="0" font-size="14.6" fill="#111" text-anchor="middle" textLength="60.90" lengthAdjust="spacingAndGlyphs">PIM1 CNRQ</text>
<line x1="72.40" y1="900.00" x2="72.40" y2="904.70" stroke="#000" stroke-width="1.4"/>
<rect x="61.55" y="838.55" width="6.90" height="61.10" fill="#2d4c7f" stroke="#213e74" stroke-width="0.7"/>
<line x1="65.00" y1="838.20" x2="65.00" y2="827.60" stroke="#222" stroke-width="1.6"/>
<line x1="62.20" y1="827.60" x2="67.80" y2="827.60" stroke="#111" stroke-width="1.7"/>
<rect x="76.95" y="813.15" width="6.90" height="86.50" fill="#6aa9de" stroke="#5fa2da" stroke-width="0.7"/>
<line x1="80.40" y1="812.80" x2="80.40" y2="801.20" stroke="#111" stroke-width="1.6"/>
<line x1="77.60" y1="801.20" x2="83.20" y2="801.20" stroke="#111" stroke-width="1.7"/>
<text transform="translate(76.40,914.40) rotate(-45)" font-size="12" fill="#111" text-anchor="end">PDX#1</text>
<line x1="113.66" y1="900.00" x2="113.66" y2="904.70" stroke="#000" stroke-width="1.4"/>
<rect x="102.81" y="864.10" width="6.90" height="35.55" fill="#2d4c7f" stroke="#213e74" stroke-width="0.7"/>
<line x1="106.26" y1="863.75" x2="106.26" y2="857.50" stroke="#222" stroke-width="1.6"/>
<line x1="103.46" y1="857.50" x2="109.06" y2="857.50" stroke="#111" stroke-width="1.7"/>
<rect x="118.21" y="846.60" width="6.90" height="53.05" fill="#6aa9de" stroke="#5fa2da" stroke-width="0.7"/>
<line x1="121.66" y1="846.25" x2="121.66" y2="839.50" stroke="#111" stroke-width="1.6"/>
<line x1="118.86" y1="839.50" x2="124.46" y2="839.50" stroke="#111" stroke-width="1.7"/>
<text transform="translate(117.66,914.40) rotate(-45)" font-size="12" fill="#111" text-anchor="end">PDX#2</text>
<line x1="154.92" y1="900.00" x2="154.92" y2="904.70" stroke="#000" stroke-width="1.4"/>
<rect x="144.07" y="777.35" width="6.90" height="122.30" fill="#2d4c7f" stroke="#213e74" stroke-width="0.7"/>
<line x1="147.52" y1="777.00" x2="147.52" y2="772.50" stroke="#222" stroke-width="1.6"/>
<line x1="144.72" y1="772.50" x2="150.32" y2="772.50" stroke="#111" stroke-width="1.7"/>
<rect x="159.47" y="738.60" width="6.90" height="161.05" fill="#6aa9de" stroke="#5fa2da" stroke-width="0.7"/>
<line x1="162.92" y1="738.25" x2="162.92" y2="728.25" stroke="#111" stroke-width="1.6"/>
<line x1="160.12" y1="728.25" x2="165.72" y2="728.25" stroke="#111" stroke-width="1.7"/>
<text transform="translate(158.92,914.40) rotate(-45)" font-size="12" fill="#111" text-anchor="end">PDX#3</text>
<line x1="196.18" y1="900.00" x2="196.18" y2="904.70" stroke="#000" stroke-width="1.4"/>
<rect x="185.33" y="891.60" width="6.90" height="8.05" fill="#2d4c7f" stroke="#213e74" stroke-width="0.7"/>
<line x1="188.78" y1="891.25" x2="188.78" y2="888.75" stroke="#222" stroke-width="1.6"/>
<line x1="185.98" y1="888.75" x2="191.58" y2="888.75" stroke="#111" stroke-width="1.7"/>
<rect x="200.73" y="761.60" width="6.90" height="138.05" fill="#6aa9de" stroke="#5fa2da" stroke-width="0.7"/>
<line x1="204.18" y1="761.25" x2="204.18" y2="734.25" stroke="#111" stroke-width="1.6"/>
<line x1="201.38" y1="734.25" x2="206.98" y2="734.25" stroke="#111" stroke-width="1.7"/>
<text transform="translate(200.18,914.40) rotate(-45)" font-size="12" fill="#111" text-anchor="end">PDX#4</text>
<line x1="237.44" y1="900.00" x2="237.44" y2="904.70" stroke="#000" stroke-width="1.4"/>
<rect x="226.59" y="850.35" width="6.90" height="49.30" fill="#2d4c7f" stroke="#213e74" stroke-width="0.7"/>
<line x1="230.04" y1="850.00" x2="230.04" y2="836.75" stroke="#222" stroke-width="1.6"/>
<line x1="227.24" y1="836.75" x2="232.84" y2="836.75" stroke="#111" stroke-width="1.7"/>
<rect x="241.99" y="883.35" width="6.90" height="16.30" fill="#6aa9de" stroke="#5fa2da" stroke-width="0.7"/>
<line x1="245.44" y1="883.00" x2="245.44" y2="878.00" stroke="#111" stroke-width="1.6"/>
<line x1="242.64" y1="878.00" x2="248.24" y2="878.00" stroke="#111" stroke-width="1.7"/>
<text transform="translate(241.44,914.40) rotate(-45)" font-size="12" fill="#111" text-anchor="end">PDX#5</text>
<line x1="278.70" y1="900.00" x2="278.70" y2="904.70" stroke="#000" stroke-width="1.4"/>
<rect x="267.85" y="809.60" width="6.90" height="90.05" fill="#2d4c7f" stroke="#213e74" stroke-width="0.7"/>
<line x1="271.30" y1="809.25" x2="271.30" y2="776.25" stroke="#222" stroke-width="1.6"/>
<line x1="268.50" y1="776.25" x2="274.10" y2="776.25" stroke="#111" stroke-width="1.7"/>
<rect x="283.25" y="777.35" width="6.90" height="122.30" fill="#6aa9de" stroke="#5fa2da" stroke-width="0.7"/>
<line x1="286.70" y1="777.00" x2="286.70" y2="764.25" stroke="#111" stroke-width="1.6"/>
<line x1="283.90" y1="764.25" x2="289.50" y2="764.25" stroke="#111" stroke-width="1.7"/>
<text transform="translate(282.70,914.40) rotate(-45)" font-size="12" fill="#111" text-anchor="end">PDX#6</text>
<line x1="319.96" y1="900.00" x2="319.96" y2="904.70" stroke="#000" stroke-width="1.4"/>
<rect x="309.11" y="899.10" width="6.90" height="0.55" fill="#2d4c7f" stroke="#213e74" stroke-width="0.7"/>
<line x1="312.56" y1="898.75" x2="312.56" y2="896.25" stroke="#222" stroke-width="1.6"/>
<line x1="309.76" y1="896.25" x2="315.36" y2="896.25" stroke="#111" stroke-width="1.7"/>
<rect x="324.51" y="890.85" width="6.90" height="8.80" fill="#6aa9de" stroke="#5fa2da" stroke-width="0.7"/>
<line x1="327.96" y1="890.50" x2="327.96" y2="886.75" stroke="#111" stroke-width="1.6"/>
<line x1="325.16" y1="886.75" x2="330.76" y2="886.75" stroke="#111" stroke-width="1.7"/>
<text transform="translate(323.96,914.40) rotate(-45)" font-size="12" fill="#111" text-anchor="end">PDX#7</text>
<line x1="361.22" y1="900.00" x2="361.22" y2="904.70" stroke="#000" stroke-width="1.4"/>
<line x1="353.82" y1="899.90" x2="353.82" y2="897.70" stroke="#222" stroke-width="1.6"/>
<line x1="351.02" y1="897.70" x2="356.62" y2="897.70" stroke="#111" stroke-width="1.7"/>
<rect x="365.77" y="894.85" width="6.90" height="4.80" fill="#6aa9de" stroke="#5fa2da" stroke-width="0.7"/>
<line x1="369.22" y1="894.50" x2="369.22" y2="891.50" stroke="#111" stroke-width="1.6"/>
<line x1="366.42" y1="891.50" x2="372.02" y2="891.50" stroke="#111" stroke-width="1.7"/>
<text transform="translate(365.22,914.40) rotate(-45)" font-size="12" fill="#111" text-anchor="end">PDX#8</text>
<line x1="402.48" y1="900.00" x2="402.48" y2="904.70" stroke="#000" stroke-width="1.4"/>
<rect x="391.63" y="897.95" width="6.90" height="1.70" fill="#2d4c7f" stroke="#213e74" stroke-width="0.7"/>
<line x1="395.08" y1="897.60" x2="395.08" y2="895.40" stroke="#222" stroke-width="1.6"/>
<line x1="392.28" y1="895.40" x2="397.88" y2="895.40" stroke="#111" stroke-width="1.7"/>
<rect x="407.03" y="898.65" width="6.90" height="1.00" fill="#6aa9de" stroke="#5fa2da" stroke-width="0.7"/>
<line x1="410.48" y1="898.30" x2="410.48" y2="895.70" stroke="#111" stroke-width="1.6"/>
<line x1="407.68" y1="895.70" x2="413.28" y2="895.70" stroke="#111" stroke-width="1.7"/>
<text transform="translate(406.48,914.40) rotate(-45)" font-size="12" fill="#111" text-anchor="end">PDX#9</text>
<line x1="443.74" y1="900.00" x2="443.74" y2="904.70" stroke="#000" stroke-width="1.4"/>
<line x1="436.34" y1="899.90" x2="436.34" y2="897.00" stroke="#222" stroke-width="1.6"/>
<line x1="433.54" y1="897.00" x2="439.14" y2="897.00" stroke="#111" stroke-width="1.7"/>
<rect x="448.29" y="898.25" width="6.90" height="1.40" fill="#6aa9de" stroke="#5fa2da" stroke-width="0.7"/>
<line x1="451.74" y1="897.90" x2="451.74" y2="895.00" stroke="#111" stroke-width="1.6"/>
<line x1="448.94" y1="895.00" x2="454.54" y2="895.00" stroke="#111" stroke-width="1.7"/>
<text transform="translate(447.74,914.40) rotate(-45)" font-size="12" fill="#111" text-anchor="end">PDX#10</text>
<line x1="485.00" y1="900.00" x2="485.00" y2="904.70" stroke="#000" stroke-width="1.4"/>
<rect x="474.15" y="891.55" width="6.90" height="8.10" fill="#2d4c7f" stroke="#213e74" stroke-width="0.7"/>
<line x1="477.60" y1="891.20" x2="477.60" y2="888.50" stroke="#222" stroke-width="1.6"/>
<line x1="474.80" y1="888.50" x2="480.40" y2="888.50" stroke="#111" stroke-width="1.7"/>
<rect x="489.55" y="866.35" width="6.90" height="33.30" fill="#6aa9de" stroke="#5fa2da" stroke-width="0.7"/>
<line x1="493.00" y1="866.00" x2="493.00" y2="863.50" stroke="#111" stroke-width="1.6"/>
<line x1="490.20" y1="863.50" x2="495.80" y2="863.50" stroke="#111" stroke-width="1.7"/>
<text transform="translate(489.00,914.40) rotate(-45)" font-size="12" fill="#111" text-anchor="end">PDX#11</text>
<line x1="62.20" y1="781.30" x2="81.20" y2="781.30" stroke="#111" stroke-width="1.7"/>
<text x="71.70" y="777.20" font-size="11.6" fill="#111" text-anchor="middle">ns</text>
<line x1="101.25" y1="825.75" x2="120.50" y2="825.75" stroke="#111" stroke-width="1.7"/>
<text x="110.88" y="821.65" font-size="11.6" fill="#111" text-anchor="middle">ns</text>
<line x1="143.25" y1="715.75" x2="162.50" y2="715.75" stroke="#111" stroke-width="1.7"/>
<g fill="#111"><path d="M152.88 708.95L152.88 706.35M152.88 708.95L155.35 708.15M152.88 708.95L154.40 711.05M152.88 708.95L151.35 711.05M152.88 708.95L150.40 708.15" stroke="#111" stroke-width="1.15" stroke-linecap="round" fill="none"/><circle cx="152.88" cy="708.95" r="0.95"/></g>
<line x1="186.25" y1="715.75" x2="205.50" y2="715.75" stroke="#111" stroke-width="1.7"/>
<g fill="#111"><path d="M192.62 708.95L192.62 706.35M192.62 708.95L195.10 708.15M192.62 708.95L194.15 711.05M192.62 708.95L191.10 711.05M192.62 708.95L190.15 708.15" stroke="#111" stroke-width="1.15" stroke-linecap="round" fill="none"/><circle cx="192.62" cy="708.95" r="0.95"/><path d="M199.12 708.95L199.12 706.35M199.12 708.95L201.60 708.15M199.12 708.95L200.65 711.05M199.12 708.95L197.60 711.05M199.12 708.95L196.65 708.15" stroke="#111" stroke-width="1.15" stroke-linecap="round" fill="none"/><circle cx="199.12" cy="708.95" r="0.95"/></g>
<line x1="227.00" y1="821.25" x2="245.75" y2="821.25" stroke="#111" stroke-width="1.7"/>
<text x="236.38" y="817.15" font-size="11.6" fill="#111" text-anchor="middle">ns</text>
<line x1="268.25" y1="751.75" x2="287.00" y2="751.75" stroke="#111" stroke-width="1.7"/>
<text x="277.62" y="747.65" font-size="11.6" fill="#111" text-anchor="middle">ns</text>
<line x1="308.25" y1="870.75" x2="327.00" y2="870.75" stroke="#111" stroke-width="1.7"/>
<g fill="#111"><path d="M317.62 863.95L317.62 861.35M317.62 863.95L320.10 863.15M317.62 863.95L319.15 866.05M317.62 863.95L316.10 866.05M317.62 863.95L315.15 863.15" stroke="#111" stroke-width="1.15" stroke-linecap="round" fill="none"/><circle cx="317.62" cy="863.95" r="0.95"/></g>
<line x1="348.30" y1="871.10" x2="367.20" y2="871.10" stroke="#111" stroke-width="1.7"/>
<g fill="#111"><path d="M357.75 864.30L357.75 861.70M357.75 864.30L360.22 863.50M357.75 864.30L359.28 866.40M357.75 864.30L356.22 866.40M357.75 864.30L355.28 863.50" stroke="#111" stroke-width="1.15" stroke-linecap="round" fill="none"/><circle cx="357.75" cy="864.30" r="0.95"/></g>
<line x1="391.00" y1="871.70" x2="410.00" y2="871.70" stroke="#111" stroke-width="1.7"/>
<text x="400.50" y="867.60" font-size="11.6" fill="#111" text-anchor="middle">ns</text>
<line x1="432.00" y1="871.90" x2="450.80" y2="871.90" stroke="#111" stroke-width="1.7"/>
<text x="441.40" y="867.80" font-size="11.6" fill="#111" text-anchor="middle">ns</text>
<line x1="473.80" y1="848.30" x2="492.70" y2="848.30" stroke="#111" stroke-width="1.7"/>
<g fill="#111"><path d="M476.75 841.50L476.75 838.90M476.75 841.50L479.22 840.70M476.75 841.50L478.28 843.60M476.75 841.50L475.22 843.60M476.75 841.50L474.28 840.70" stroke="#111" stroke-width="1.15" stroke-linecap="round" fill="none"/><circle cx="476.75" cy="841.50" r="0.95"/><path d="M483.25 841.50L483.25 838.90M483.25 841.50L485.72 840.70M483.25 841.50L484.78 843.60M483.25 841.50L481.72 843.60M483.25 841.50L480.78 840.70" stroke="#111" stroke-width="1.15" stroke-linecap="round" fill="none"/><circle cx="483.25" cy="841.50" r="0.95"/><path d="M489.75 841.50L489.75 838.90M489.75 841.50L492.22 840.70M489.75 841.50L491.28 843.60M489.75 841.50L488.22 843.60M489.75 841.50L487.28 840.70" stroke="#111" stroke-width="1.15" stroke-linecap="round" fill="none"/><circle cx="489.75" cy="841.50" r="0.95"/></g>
<line x1="61.20" y1="952.10" x2="260.80" y2="952.10" stroke="#b0143e" stroke-width="1.9"/>
<line x1="308.10" y1="952.10" x2="495.00" y2="952.10" stroke="#b0143e" stroke-width="1.9"/>
<text x="123.80" y="969.30" font-size="12" fill="#a30d38" textLength="75.00" lengthAdjust="spacingAndGlyphs">IL7 responder</text>
<text x="352.00" y="969.30" font-size="12" fill="#a30d38" textLength="99.50" lengthAdjust="spacingAndGlyphs">IL7 non responder</text>
</g>
<rect x="0" y="0" width="520" height="1.9" fill="#000"/><rect x="0" y="981.9" width="520" height="2.1" fill="#000"/><rect x="0" y="0" width="1.75" height="984" fill="#000"/><rect x="518.1" y="0" width="1.9" height="984" fill="#000"/>
</svg>
</body></html>
